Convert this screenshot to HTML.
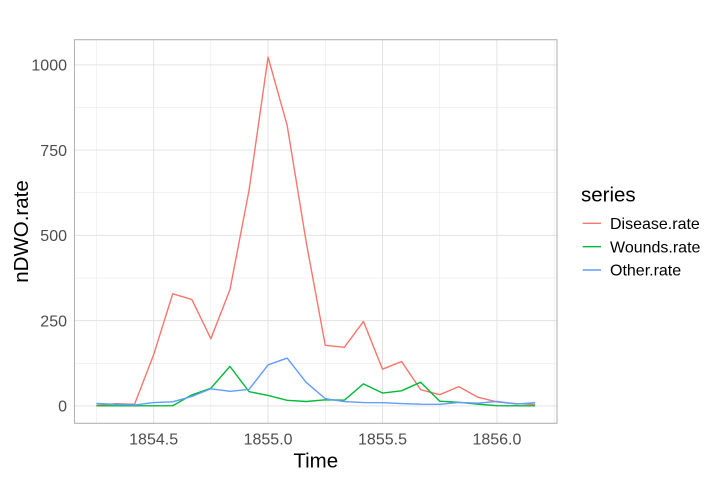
<!DOCTYPE html>
<html>
<head>
<meta charset="utf-8">
<style>
  html, body { margin: 0; padding: 0; background: #ffffff; }
  svg { display: block; }
  text { font-family: "Liberation Sans", Arial, sans-serif; }
</style>
</head>
<body>
<svg width="720" height="480" viewBox="0 0 720 480" xmlns="http://www.w3.org/2000/svg">
  <rect x="0" y="0" width="720" height="480" fill="#ffffff"/>

  <!-- minor grid -->
  <g stroke="#E6E6E6" stroke-width="0.5" fill="none">
    <line x1="74.5" x2="557" y1="363.24" y2="363.24"/>
    <line x1="74.5" x2="557" y1="278.00" y2="278.00"/>
    <line x1="74.5" x2="557" y1="192.76" y2="192.76"/>
    <line x1="74.5" x2="557" y1="107.52" y2="107.52"/>
    <line y1="39.7" y2="423.3" x1="96.43" x2="96.43"/>
    <line y1="39.7" y2="423.3" x1="210.86" x2="210.86"/>
    <line y1="39.7" y2="423.3" x1="325.29" x2="325.29"/>
    <line y1="39.7" y2="423.3" x1="439.72" x2="439.72"/>
    <line y1="39.7" y2="423.3" x1="554.15" x2="554.15"/>
  </g>
  <!-- major grid -->
  <g stroke="#E3E3E3" stroke-width="1" fill="none">
    <line x1="74.5" x2="557" y1="405.86" y2="405.86"/>
    <line x1="74.5" x2="557" y1="320.62" y2="320.62"/>
    <line x1="74.5" x2="557" y1="235.38" y2="235.38"/>
    <line x1="74.5" x2="557" y1="150.14" y2="150.14"/>
    <line x1="74.5" x2="557" y1="64.90" y2="64.90"/>
    <line y1="39.7" y2="423.3" x1="153.64" x2="153.64"/>
    <line y1="39.7" y2="423.3" x1="268.07" x2="268.07"/>
    <line y1="39.7" y2="423.3" x1="382.50" x2="382.50"/>
    <line y1="39.7" y2="423.3" x1="496.93" x2="496.93"/>
  </g>

  <!-- series -->
  <g fill="none" stroke-width="1.4" stroke-linejoin="round" stroke-linecap="butt">
    <polyline stroke="#F8766D" points="96.43,405.38 115.50,403.75 134.57,404.26 153.65,354.72 172.72,293.85 191.79,299.41 210.86,338.69 229.93,289.73 249.01,190.54 268.08,57.13 287.15,125.32 306.22,242.10 325.29,345.34 344.37,347.28 363.44,321.44 382.51,369.21 401.58,361.57 420.65,389.66 439.73,394.68 458.80,386.63 477.87,397.23 496.94,401.97 516.01,403.61 535.09,404.53"/>
    <polyline stroke="#00BA38" points="96.43,405.86 115.50,405.86 134.57,405.86 153.65,405.86 172.72,405.72 191.79,394.92 210.86,388.23 229.93,366.38 249.01,391.64 268.08,395.39 287.15,400.30 306.22,401.50 325.29,399.76 344.37,400.20 363.44,383.87 382.51,393.01 401.58,390.82 420.65,382.20 439.73,401.22 458.80,402.28 477.87,404.16 496.94,405.69 516.01,405.86 535.09,405.86"/>
    <polyline stroke="#619CFF" points="96.43,403.47 115.50,404.29 134.57,405.01 153.65,402.59 172.72,401.80 191.79,396.42 210.86,388.78 229.93,391.27 249.01,389.49 268.08,364.94 287.15,358.09 306.22,382.47 325.29,398.63 344.37,401.60 363.44,402.59 382.51,402.69 401.58,403.58 420.65,404.16 439.73,404.29 458.80,402.42 477.87,403.20 496.94,401.43 516.01,404.09 535.09,402.76"/>
  </g>

  <!-- panel border -->
  <rect x="74.5" y="39.7" width="482.5" height="383.6" fill="none" stroke="#B3B3B3" stroke-width="1.1"/>

  <!-- y tick labels -->
  <g font-size="16" fill="#4D4D4D" text-anchor="end">
    <text x="67" y="411.6">0</text>
    <text x="67" y="326.4">250</text>
    <text x="67" y="241.1">500</text>
    <text x="67" y="155.9">750</text>
    <text x="67" y="70.6">1000</text>
  </g>
  <!-- x tick labels -->
  <g font-size="16" fill="#4D4D4D" text-anchor="middle">
    <text x="153.64" y="444.5">1854.5</text>
    <text x="268.07" y="444.5">1855.0</text>
    <text x="382.50" y="444.5">1855.5</text>
    <text x="496.93" y="444.5">1856.0</text>
  </g>

  <!-- axis titles -->
  <text x="315.75" y="467.5" font-size="20.5" fill="#000000" text-anchor="middle">Time</text>
  <text transform="translate(28,231.5) rotate(-90)" font-size="20.5" fill="#000000" text-anchor="middle">nDWO.rate</text>

  <!-- legend -->
  <text x="581" y="201.5" font-size="20.5" fill="#000000">series</text>
  <g stroke-width="1.4">
    <line x1="582.7" x2="601" y1="223.3" y2="223.3" stroke="#F8766D"/>
    <line x1="582.7" x2="601" y1="246.7" y2="246.7" stroke="#00BA38"/>
    <line x1="582.7" x2="601" y1="270" y2="270" stroke="#619CFF"/>
  </g>
  <g font-size="16" fill="#000000">
    <text x="610" y="229">Disease.rate</text>
    <text x="610" y="252.4">Wounds.rate</text>
    <text x="610" y="275.7">Other.rate</text>
  </g>
</svg>
</body>
</html>
